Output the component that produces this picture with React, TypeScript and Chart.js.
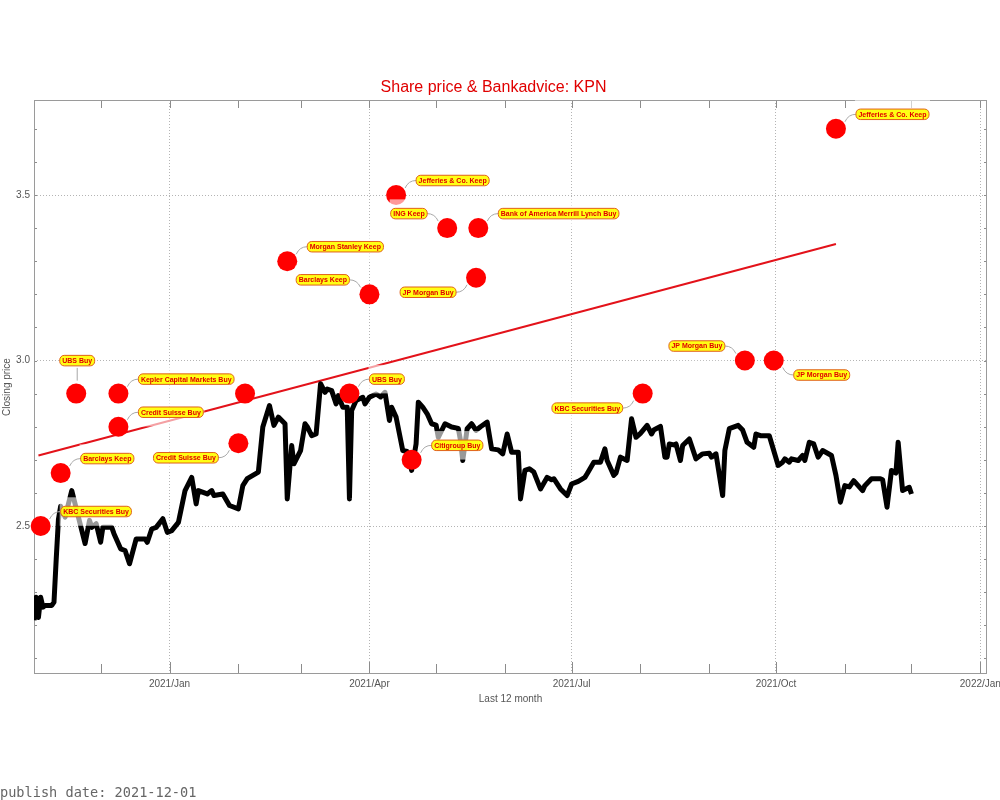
import React, { useEffect, useRef } from "react";
import { Chart, registerables } from "chart.js";

Chart.register(...registerables);

// ---- data ----
const priceDates = [
  "2020-11-01","2020-11-02","2020-11-03","2020-11-04","2020-11-05","2020-11-06","2020-11-09","2020-11-10",
  "2020-11-11","2020-11-12","2020-11-13","2020-11-15","2020-11-18","2020-11-21","2020-11-24","2020-11-26",
  "2020-11-27","2020-11-29","2020-12-01","2020-12-02","2020-12-06","2020-12-07","2020-12-10","2020-12-12",
  "2020-12-14","2020-12-17","2020-12-21","2020-12-22","2020-12-24","2020-12-26","2020-12-29","2020-12-31",
  "2021-01-02","2021-01-05","2021-01-08","2021-01-11","2021-01-13","2021-01-14","2021-01-18","2021-01-20",
  "2021-01-21","2021-01-25","2021-01-28","2021-02-01","2021-02-03","2021-02-05","2021-02-10","2021-02-12",
  "2021-02-15","2021-02-17","2021-02-19","2021-02-22","2021-02-23","2021-02-25","2021-02-26","2021-03-01",
  "2021-03-03","2021-03-04","2021-03-06","2021-03-08","2021-03-10","2021-03-12","2021-03-13","2021-03-15",
  "2021-03-17","2021-03-18","2021-03-20","2021-03-22","2021-03-23","2021-03-24","2021-03-26","2021-03-29",
  "2021-03-30","2021-04-01","2021-04-04","2021-04-06","2021-04-08","2021-04-10","2021-04-11","2021-04-13",
  "2021-04-16","2021-04-18","2021-04-20","2021-04-22","2021-04-23","2021-04-25","2021-04-27","2021-04-29",
  "2021-05-01","2021-05-02","2021-05-05","2021-05-08","2021-05-11","2021-05-12","2021-05-13","2021-05-15",
  "2021-05-17","2021-05-19","2021-05-21","2021-05-24","2021-05-26","2021-05-29","2021-05-31","2021-06-02",
  "2021-06-04","2021-06-07","2021-06-08","2021-06-10","2021-06-12","2021-06-14","2021-06-17","2021-06-20",
  "2021-06-22","2021-06-23","2021-06-26","2021-06-29","2021-07-01","2021-07-04","2021-07-07","2021-07-08",
  "2021-07-11","2021-07-14","2021-07-16","2021-07-17","2021-07-20","2021-07-21","2021-07-23","2021-07-26",
  "2021-07-28","2021-07-30","2021-08-01","2021-08-04","2021-08-06","2021-08-07","2021-08-10","2021-08-12",
  "2021-08-13","2021-08-14","2021-08-16","2021-08-17","2021-08-19","2021-08-20","2021-08-23","2021-08-26",
  "2021-08-29","2021-09-01","2021-09-02","2021-09-04","2021-09-07","2021-09-08","2021-09-10","2021-09-14",
  "2021-09-16","2021-09-18","2021-09-21","2021-09-22","2021-09-24","2021-09-28","2021-10-02","2021-10-04",
  "2021-10-05","2021-10-07","2021-10-08","2021-10-11","2021-10-13","2021-10-14","2021-10-16","2021-10-18",
  "2021-10-20","2021-10-22","2021-10-26","2021-10-28","2021-10-30","2021-11-01","2021-11-03","2021-11-05",
  "2021-11-09","2021-11-10","2021-11-13","2021-11-17","2021-11-18","2021-11-20","2021-11-22","2021-11-24",
  "2021-11-25","2021-11-27","2021-11-30","2021-12-01",
];
const priceValues = [
  2.215,2.285,2.224,2.285,2.255,2.26,2.26,2.27,
  2.40,2.52,2.56,2.527,2.607,2.527,2.447,2.517,
  2.496,2.507,2.451,2.496,2.496,2.477,2.431,2.426,
  2.386,2.461,2.461,2.451,2.491,2.496,2.522,2.481,
  2.486,2.511,2.607,2.647,2.567,2.607,2.597,2.607,
  2.592,2.597,2.562,2.552,2.622,2.643,2.663,2.799,
  2.864,2.804,2.829,2.809,2.582,2.743,2.688,2.728,
  2.809,2.80,2.773,2.778,2.930,2.904,2.914,2.909,
  2.869,2.894,2.859,2.859,2.582,2.849,2.879,2.889,
  2.869,2.889,2.899,2.89,2.904,2.819,2.859,2.829,
  2.728,2.725,2.668,2.748,2.874,2.859,2.839,2.809,
  2.805,2.768,2.809,2.799,2.795,2.758,2.698,2.794,
  2.809,2.789,2.80,2.814,2.733,2.73,2.718,2.778,
  2.723,2.723,2.582,2.668,2.673,2.663,2.612,2.647,
  2.64,2.643,2.612,2.592,2.627,2.635,2.647,2.658,
  2.693,2.693,2.733,2.698,2.653,2.66,2.708,2.698,
  2.824,2.768,2.78,2.804,2.778,2.79,2.801,2.708,
  2.708,2.748,2.745,2.748,2.698,2.743,2.763,2.703,
  2.718,2.72,2.708,2.718,2.592,2.728,2.794,2.804,
  2.79,2.753,2.738,2.778,2.773,2.773,2.683,2.693,
  2.703,2.693,2.703,2.698,2.713,2.698,2.753,2.748,
  2.708,2.728,2.713,2.653,2.572,2.622,2.618,2.637,
  2.607,2.622,2.643,2.643,2.64,2.557,2.668,2.66,
  2.753,2.607,2.617,2.597,
];

const trendDates = ["2020-11-03", "2021-10-28"];
const trendValues = [2.713, 3.352];

const adviceDates = [
  "2020-11-04","2020-11-13","2020-11-20","2020-12-09","2020-12-09","2021-02-01","2021-02-04",
  "2021-02-23","2021-04-01","2021-03-23","2021-04-13","2021-05-06","2021-05-20","2021-05-19",
  "2021-04-20","2021-08-02","2021-09-17","2021-09-30","2021-10-28",
];
const advicePrices = [
  2.5, 2.66, 2.9, 2.9, 2.8, 2.75, 2.9,
  3.3, 3.2, 2.9, 3.5, 3.4, 3.4, 3.25,
  2.7, 2.9, 3.0, 3.0, 3.7,
];
const adviceLabels = [
  "KBC Securities Buy","Barclays Keep","UBS Buy","Kepler Capital Markets Buy","Credit Suisse Buy",
  "Credit Suisse Buy","","Morgan Stanley Keep","Barclays Keep","UBS Buy","Jefferies & Co. Keep",
  "ING Keep","Bank of America Merrill Lynch Buy","JP Morgan Buy","Citigroup Buy","KBC Securities Buy",
  "JP Morgan Buy","JP Morgan Buy","Jefferies & Co. Keep",
];
// where each label sits relative to its point
const adviceLabelSide = [
  "ne","ne","n","ne","ne","sw","","ne","nw","ne","ne","nw","ne","sw","ne","sw","nw","se","ne",
];

const xRangeDates = ["2020-11-01", "2022-01-04"];
const xTickDates = ["2021-01-01", "2021-04-01", "2021-07-01", "2021-10-01", "2022-01-01"];
const xTickLabels = ["2021/Jan", "2021/Apr", "2021/Jul", "2021/Oct", "2022/Jan"];
const monthTickDates = [
  "2020-11-01","2020-12-01","2021-01-01","2021-02-01","2021-03-01","2021-04-01","2021-05-01",
  "2021-06-01","2021-07-01","2021-08-01","2021-09-01","2021-10-01","2021-11-01","2021-12-01","2022-01-01",
];
const yRange = [2.053, 3.787];
const yMajorTicks = [2.5, 3.0, 3.5];
const yMinorTicks = [2.1, 2.2, 2.3, 2.4, 2.5, 2.6, 2.7, 2.8, 2.9, 3.0, 3.1, 3.2, 3.3, 3.4, 3.5, 3.6, 3.7];

const chartTitle = "Share price & Bankadvice: KPN";
const xTitle = "Last 12 month";
const yTitle = "Closing price";
const publishDate = "publish date: 2021-12-01";

// ---- helpers ----
const BASE = Date.UTC(2021, 0, 1);
function dayOf(s: string): number {
  const [y, m, d] = s.split("-").map(Number);
  return (Date.UTC(y, m - 1, d) - BASE) / 86400000;
}

const FONT = '"Liberation Sans", Arial, Helvetica, sans-serif';
const AXIS_GREY = "#555555";

const framePlugin = {
  id: "frameTicks",
  beforeDatasetsDraw(chart: any) {
    const { ctx, chartArea, scales } = chart;
    const { left, right, top, bottom } = chartArea;
    const x = scales.x;
    const y = scales.y;
    ctx.save();
    ctx.strokeStyle = "#8c8c8c";
    ctx.lineWidth = 1;
    ctx.setLineDash([]);
    ctx.beginPath();
    monthTickDates.forEach((d) => {
      const px = Math.round(x.getPixelForValue(dayOf(d))) + 0.5;
      if (px < left - 0.5 || px > right + 0.5) return;
      const major = xTickDates.includes(d);
      ctx.moveTo(px, bottom);
      ctx.lineTo(px, bottom - (major ? 12 : 10));
      ctx.moveTo(px, top);
      ctx.lineTo(px, top + 8);
    });
    yMinorTicks.forEach((v) => {
      const py = Math.round(y.getPixelForValue(v)) + 0.5;
      ctx.moveTo(left, py);
      ctx.lineTo(left + 3, py);
      ctx.moveTo(right, py);
      ctx.lineTo(right - 3, py);
    });
    ctx.stroke();
    ctx.strokeStyle = "#9a9a9a";
    ctx.strokeRect(Math.round(left) + 0.5, Math.round(top) + 0.5, Math.round(right - left) - 1, Math.round(bottom - top) - 1);
    ctx.restore();
  },
};

function roundRectPath(ctx: CanvasRenderingContext2D, x: number, y: number, w: number, h: number, r: number) {
  ctx.beginPath();
  ctx.moveTo(x + r, y);
  ctx.lineTo(x + w - r, y);
  ctx.arcTo(x + w, y, x + w, y + r, r);
  ctx.lineTo(x + w, y + h - r);
  ctx.arcTo(x + w, y + h, x + w - r, y + h, r);
  ctx.lineTo(x + r, y + h);
  ctx.arcTo(x, y + h, x, y + h - r, r);
  ctx.lineTo(x, y + r);
  ctx.arcTo(x, y, x + r, y, r);
  ctx.closePath();
}

const labelPlugin = {
  id: "adviceLabels",
  afterDatasetsDraw(chart: any) {
    const { ctx, scales } = chart;
    const x = scales.x;
    const y = scales.y;
    ctx.save();
    ctx.font = "bold 7px " + FONT;
    adviceDates.forEach((d, i) => {
      const label = adviceLabels[i];
      const side = adviceLabelSide[i];
      if (!label || !side) return;
      const px = x.getPixelForValue(dayOf(d));
      const py = y.getPixelForValue(advicePrices[i]);
      const tw = ctx.measureText(label).width;
      const bw = tw + 5;
      const bh = 10.5;
      let bx: number, by: number, sx: number, sy: number, ex: number, ey: number;
      if (side === "n") {
        bx = px + 1 - bw / 2;
        by = py - 33 - bh / 2;
        sx = px + 1;
        sy = py - 13;
        ex = px + 1;
        ey = by + bh + 2;
      } else {
        const north = side[0] === "n";
        const east = side[1] === "e";
        const cy = py + (north ? -14.5 : 14.5);
        bx = east ? px + 20 : px - 20 - bw;
        by = cy - bh / 2;
        ex = east ? bx : bx + bw;
        ey = cy;
        sx = px + (east ? 9 : -9);
        sy = py + (north ? -7 : 7);
      }
      // translucent halo behind the label
      ctx.fillStyle = "rgba(255,255,255,0.6)";
      ctx.fillRect(bx - 1, by - 9, bw + 2, bh + 18);
      // connector
      ctx.strokeStyle = "#a8a8a8";
      ctx.lineWidth = 1;
      ctx.beginPath();
      ctx.moveTo(sx, sy);
      if (side === "n") ctx.lineTo(ex, ey);
      else ctx.quadraticCurveTo(sx + (ex - sx) * 0.3, ey, ex, ey);
      ctx.stroke();
      // box
      roundRectPath(ctx, bx, by, bw, bh, 4.5);
      ctx.fillStyle = "rgba(255,255,0,0.92)";
      ctx.fill();
      ctx.strokeStyle = "#e0601a";
      ctx.lineWidth = 1;
      ctx.stroke();
      // text
      ctx.fillStyle = "#e00000";
      ctx.textAlign = "left";
      ctx.textBaseline = "middle";
      ctx.fillText(label, bx + 2.5, by + bh / 2 + 0.5);
    });
    ctx.restore();
  },
};

export default function App() {
  const canvasRef = useRef<HTMLCanvasElement | null>(null);

  useEffect(() => {
    const canvas = canvasRef.current;
    if (!canvas) return;
    Chart.defaults.font.family = FONT;

    const priceData = priceDates.map((d, i) => ({ x: dayOf(d), y: priceValues[i] }));
    const trendData = trendDates.map((d, i) => ({ x: dayOf(d), y: trendValues[i] }));
    const adviceData = adviceDates.map((d, i) => ({ x: dayOf(d), y: advicePrices[i] }));

    const chart = new Chart(canvas, {
      type: "line",
      data: {
        datasets: [
          {
            label: "Bank advice",
            data: adviceData,
            showLine: false,
            pointRadius: 10,
            pointHoverRadius: 10,
            pointBorderWidth: 0,
            pointBackgroundColor: "#ff0000",
            backgroundColor: "#ff0000",
            borderColor: "#ff0000",
            clip: false,
            order: 0,
          } as any,
          {
            label: "Closing price",
            data: priceData,
            borderColor: "#000000",
            borderWidth: 5,
            pointRadius: 0,
            borderJoinStyle: "round",
            tension: 0,
            order: 1,
          } as any,
          {
            label: "Trend",
            data: trendData,
            borderColor: "#e3121a",
            borderWidth: 2,
            pointRadius: 0,
            order: 2,
          } as any,
        ],
      },
      options: {
        animation: false,
        responsive: false,
        events: [],
        layout: { padding: { left: 0, right: 13, top: 0, bottom: 95 } },
        plugins: {
          legend: { display: false },
          tooltip: { enabled: false },
          title: {
            display: true,
            text: chartTitle,
            color: "#e00000",
            font: { size: 16, weight: "normal", family: FONT },
            padding: { top: 78, bottom: 2.8 },
          },
        },
        scales: {
          x: {
            type: "linear",
            min: dayOf(xRangeDates[0]),
            max: dayOf(xRangeDates[1]),
            afterBuildTicks: (s: any) => {
              s.ticks = xTickDates.map((d) => ({ value: dayOf(d) }));
            },
            afterFit: (s: any) => {
              s.height = 31;
              s.paddingLeft = 0;
              s.paddingRight = 0;
            },
            ticks: {
              autoSkip: false,
              maxRotation: 0,
              padding: 4,
              color: AXIS_GREY,
              font: { size: 10, family: FONT },
              callback: (_v: any, i: number) => xTickLabels[i],
            },
            grid: { color: "#b4b4b4", lineWidth: 1, drawTicks: false },
            border: { display: false, dash: [1, 2] },
            title: {
              display: true,
              text: xTitle,
              color: AXIS_GREY,
              font: { size: 10, family: FONT },
              padding: { top: 0, bottom: 0 },
            },
          },
          y: {
            type: "linear",
            min: yRange[0],
            max: yRange[1],
            afterBuildTicks: (s: any) => {
              s.ticks = yMajorTicks.map((v) => ({ value: v }));
            },
            afterFit: (s: any) => {
              s.width = 34;
              s.paddingTop = 0;
              s.paddingBottom = 0;
            },
            ticks: {
              padding: 4,
              color: AXIS_GREY,
              font: { size: 10, family: FONT },
              callback: (v: any) => Number(v).toFixed(1),
            },
            grid: { color: "#b4b4b4", lineWidth: 1, drawTicks: false },
            border: { display: false, dash: [1, 2] },
            title: {
              display: true,
              text: yTitle,
              color: AXIS_GREY,
              font: { size: 10, family: FONT },
              padding: { top: 1, bottom: 0 },
            },
          },
        },
      } as any,
      plugins: [framePlugin, labelPlugin],
    });

    return () => chart.destroy();
  }, []);

  return (
    <div style={{ position: "absolute", left: 0, top: 0, width: 1000, height: 800, background: "#ffffff" }}>
      <canvas ref={canvasRef} width={1000} height={800} style={{ display: "block" }} />
      <div
        style={{
          position: "absolute",
          left: 0,
          top: 784,
          fontFamily: '"DejaVu Sans Mono", monospace',
          fontSize: "13.6px",
          lineHeight: "16px",
          color: "#666666",
          whiteSpace: "nowrap",
        }}
      >
        {publishDate}
      </div>
    </div>
  );
}
